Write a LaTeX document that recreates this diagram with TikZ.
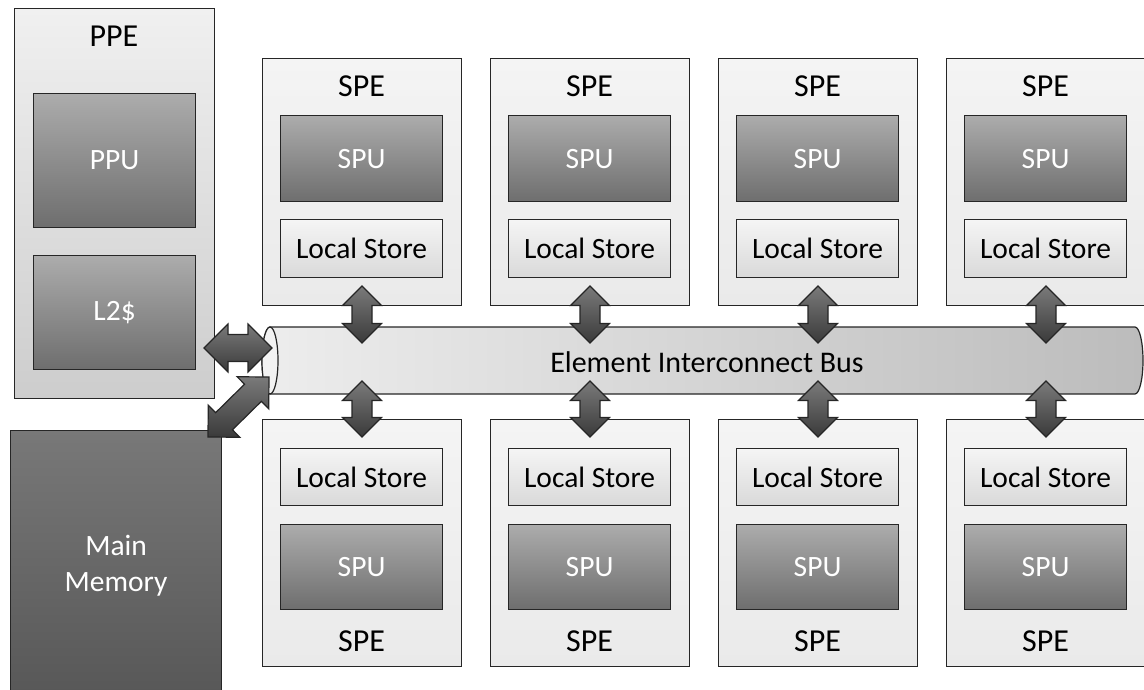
\documentclass[tikz,border=0pt]{standalone}
\usepackage{fontspec}
\setmainfont{Carlito}
\usetikzlibrary{calc}

\definecolor{edge}{HTML}{262626}
\definecolor{ppetop}{HTML}{F0F0F0}
\definecolor{ppebot}{HTML}{CDCDCD}
\definecolor{unittop}{HTML}{ACACAC}
\definecolor{unitbot}{HTML}{6E6E6E}
\definecolor{memtop}{HTML}{787878}
\definecolor{membot}{HTML}{575757}
\definecolor{spetop}{HTML}{F4F4F4}
\definecolor{spebot}{HTML}{EAEAEA}
\definecolor{storetop}{HTML}{F5F5F5}
\definecolor{storebot}{HTML}{D9D9D9}
\definecolor{busleft}{HTML}{EDEDED}
\definecolor{busright}{HTML}{BCBCBC}
\definecolor{busface}{HTML}{F2F2F2}
\definecolor{arrtop}{HTML}{7A7A7A}
\definecolor{arrbot}{HTML}{3A3A3A}

% Double-headed block arrow between two named coordinates.
% #1 = half width of the heads (also their length), #2 = half width of the shaft
\newcommand\busarrow[4]{%
  \path let \p1=(#3), \p2=(#4) in
    \pgfextra{\pgfmathsetmacro\arrang{atan2(\y2-\y1,\x2-\x1)}%
              \pgfmathsetmacro\arrlen{veclen(\x2-\x1,\y2-\y1)}%
              \xdef\arrang{\arrang}\xdef\arrlen{\arrlen}};
  \begin{scope}[shift={(#3)}, rotate=\arrang, x=1pt, y=1pt]
    \draw[blockarrow] (0,0) -- (#1,#1) -- (#1,#2) -- (\arrlen-#1,#2)
      -- (\arrlen-#1,#1) -- (\arrlen,0) -- (\arrlen-#1,-#1) -- (\arrlen-#1,-#2)
      -- (#1,-#2) -- (#1,-#1) -- cycle;
  \end{scope}}

\begin{document}
\begin{tikzpicture}[x=1pt, y=-1pt,
  every node/.style={font=\fontsize{29.5}{36}\selectfont},
  outlined/.style={draw=edge, line width=1.2pt, inner sep=0pt, anchor=north west},
  ppebox/.style={outlined, top color=ppetop, bottom color=ppebot},
  unitbox/.style={outlined, top color=unittop, bottom color=unitbot, text=white},
  spebox/.style={outlined, top color=spetop, bottom color=spebot},
  storebox/.style={outlined, top color=storetop, bottom color=storebot},
  memorybox/.style={outlined, top color=memtop, bottom color=membot, text=white, align=center},
  boxtitle/.style={anchor=base, inner sep=0pt, font=\fontsize{32}{38}\selectfont},
  blockarrow/.style={draw=edge, line width=1.2pt, line join=miter, top color=arrtop, bottom color=arrbot},
]
\useasboundingbox (0,0) rectangle (1144,690);

% PPE with its units
\node[ppebox, minimum width=200pt, minimum height=390pt] (ppe) at (14,8) {};
\node[boxtitle] (ppetitle) at (114,47) {PPE};
\node[unitbox, minimum width=162pt, minimum height=134pt] (ppu) at (33,93) {PPU};
\node[unitbox, minimum width=162pt, minimum height=114pt] (l2) at (33,255) {L2\$};

% main memory (runs off the bottom edge)
\node[memorybox, minimum width=211pt, minimum height=270pt] (mem) at (10,430) {Main\\Memory};

% the eight SPEs
\foreach \i in {1,...,4} {
  \pgfmathsetmacro\xo{262+228*(\i-1)}
  % upper row
  \node[spebox, minimum width=199pt, minimum height=247pt] (speu\i) at (\xo,58) {};
  \node[boxtitle] (speut\i) at (\xo+99.5,97) {SPE};
  \node[unitbox, minimum width=162pt, minimum height=86pt] (spuu\i) at (\xo+18,115) {SPU};
  \node[storebox, minimum width=162pt, minimum height=58pt] (lsu\i) at (\xo+18,219) {Local Store};
  % lower row
  \node[spebox, minimum width=199pt, minimum height=247pt] (sped\i) at (\xo,419) {};
  \node[boxtitle] (spedt\i) at (\xo+99.5,651) {SPE};
  \node[storebox, minimum width=162pt, minimum height=57pt] (lsd\i) at (\xo+18,448) {Local Store};
  \node[unitbox, minimum width=162pt, minimum height=85pt] (spud\i) at (\xo+18,524) {SPU};
}

% Element Interconnect Bus (horizontal cylinder)
\draw[draw=edge, line width=1.2pt, left color=busleft, right color=busright]
  (270,327) -- (1135,327) arc[start angle=-90, end angle=90, x radius=8, y radius=33.5]
  -- (270,394) arc[start angle=90, end angle=270, x radius=8, y radius=33.5] -- cycle;
\draw[draw=edge, line width=1.2pt, fill=busface] (270,360.5) ellipse[x radius=8, y radius=33.5];
\node[anchor=base, inner sep=0pt, font=\fontsize{30}{36}\selectfont] (eib) at (707,372) {Element Interconnect Bus};

% arrow end points
\foreach \i in {1,...,4} {
  \pgfmathsetmacro\xc{362+228*(\i-1)}
  \coordinate (ua\i) at (\xc,286);
  \coordinate (ub\i) at (\xc,343);
  \coordinate (da\i) at (\xc,381);
  \coordinate (db\i) at (\xc,437);
}
\coordinate (ha) at (204,348);
\coordinate (hb) at (272,348);
\coordinate (ma) at (208,437);
\coordinate (mb) at (269,377);

% block arrows
\foreach \i in {1,...,4} {
  \busarrow{19.5}{10}{ua\i}{ub\i}
  \busarrow{19.5}{10}{da\i}{db\i}
}
\busarrow{24}{13.5}{ha}{hb}
\busarrow{22.5}{12}{ma}{mb}
\end{tikzpicture}
\end{document}
